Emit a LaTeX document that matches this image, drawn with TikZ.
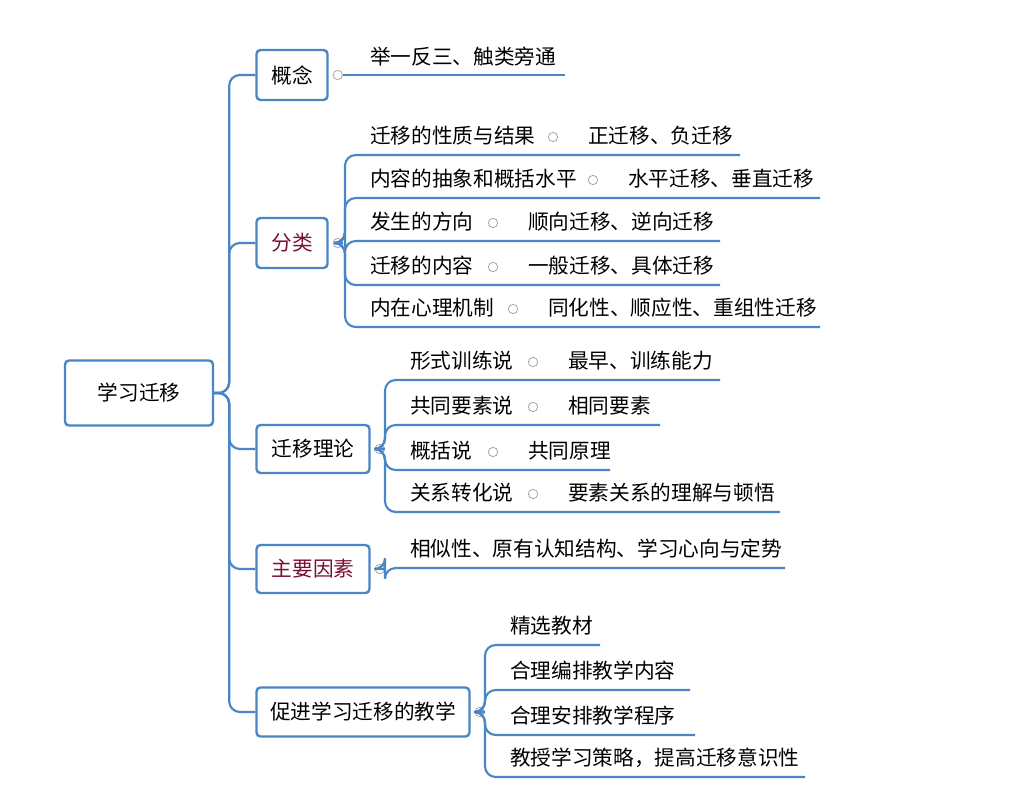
\documentclass[tikz,border=0pt]{standalone}
\usepackage{fontspec}
\setmainfont{Noto Sans CJK SC}
\usetikzlibrary{positioning}
\definecolor{mapblue}{HTML}{4A86C5}
\definecolor{topicred}{HTML}{7A1030}
\tikzset{
    line/.style={draw=mapblue,line width=1.6pt,rounded corners=8pt},
    box/.style={draw=mapblue,line width=1.8pt,rounded corners=3pt,fill=white,
        inner sep=0pt,font=\fontsize{15.5}{18}\selectfont},
    leaf/.style={anchor=base west,inner sep=0pt,font=\fontsize{15.5}{18}\selectfont},
    dot/.style={circle,draw=gray!70,line width=0.6pt,fill=white,inner sep=0pt,minimum size=7pt}
}
\begin{document}
\begin{tikzpicture}[x=0.75pt,y=-0.75pt]
    \useasboundingbox[fill=white] (0,0) rectangle (1035,800);
    % trunk
    \node[box,minimum width=148*0.75pt,minimum height=65*0.75pt] (root) at (139,393) {学习迁移};
    \node[box,minimum width=71*0.75pt,minimum height=50*0.75pt] (gn) at (292,75) {概念};
    \node[box,minimum width=71*0.75pt,minimum height=50*0.75pt,text=topicred] (fl) at (292,243) {分类};
    \node[box,minimum width=113*0.75pt,minimum height=48*0.75pt] (ll) at (313,449) {迁移理论};
    \node[box,minimum width=113*0.75pt,minimum height=48*0.75pt,text=topicred] (ys) at (313,569) {主要因素};
    \node[box,minimum width=213*0.75pt,minimum height=49*0.75pt] (jx) at (363,712) {促进学习迁移的教学};
    \foreach \b in {gn,fl,ll,ys,jx}
        \draw[line] (root.east) -- ++(15,0) |- (\b.west);
    \foreach \b in {gn,fl,ll,ys,jx}
        \node[dot,right=3pt of \b.east] (\b-m) {};
    % 概念
    \coordinate (gn-u) at (565,75);
    \draw[line] (gn-m.east) -- (gn-u);
    \node[leaf] (gn-t) at (370,64) {举一反三、触类旁通};
    % 分类
    \foreach \y/\e/\a/\d/\c in {155/740/迁移的性质与结果/553/正迁移、负迁移,
                                198/820/内容的抽象和概括水平/593/水平迁移、垂直迁移,
                                241/720/发生的方向/493/顺向迁移、逆向迁移,
                                285/720/迁移的内容/493/一般迁移、具体迁移,
                                327/820/内在心理机制/513/同化性、顺应性、重组性迁移}{
        \coordinate (fl-u\y) at (\e,\y);
        \draw[line] (fl-m.east) -- (345,243) |- (fl-u\y);
        \node[leaf] at (370,\y-12) {\a};
        \node[dot] at (\d,\y-18) {};
        \node[leaf] at (\d+35,\y-12) {\c};
    }
    % 迁移理论
    \foreach \y/\e/\a/\d/\c in {380/720/形式训练说/533/最早、训练能力,
                                425/660/共同要素说/533/相同要素,
                                470/610/概括说/493/共同原理,
                                512/780/关系转化说/533/要素关系的理解与顿悟}{
        \coordinate (ll-u\y) at (\e,\y);
        \draw[line] (ll-m.east) -- (385,449) |- (ll-u\y);
        \node[leaf] at (410,\y-12) {\a};
        \node[dot] at (\d,\y-18) {};
        \node[leaf] at (\d+35,\y-12) {\c};
    }
    % 主要因素
    \coordinate (ys-u) at (785,568);
    \draw[line] (ys-m.east) -- (385,569) |- (ys-u);
    \node[leaf] at (410,556) {相似性、原有认知结构、学习心向与定势};
    % 教学
    \foreach \y/\e/\a in {645/600/精选教材, 690/690/合理编排教学内容,
                          735/695/合理安排教学程序, 777/805/教授学习策略，提高迁移意识性}{
        \coordinate (jx-u\y) at (\e,\y);
        \draw[line] (jx-m.east) -- (485,712) |- (jx-u\y);
        \node[leaf] at (510,\y-12) {\a};
    }
\end{tikzpicture}
\end{document}
